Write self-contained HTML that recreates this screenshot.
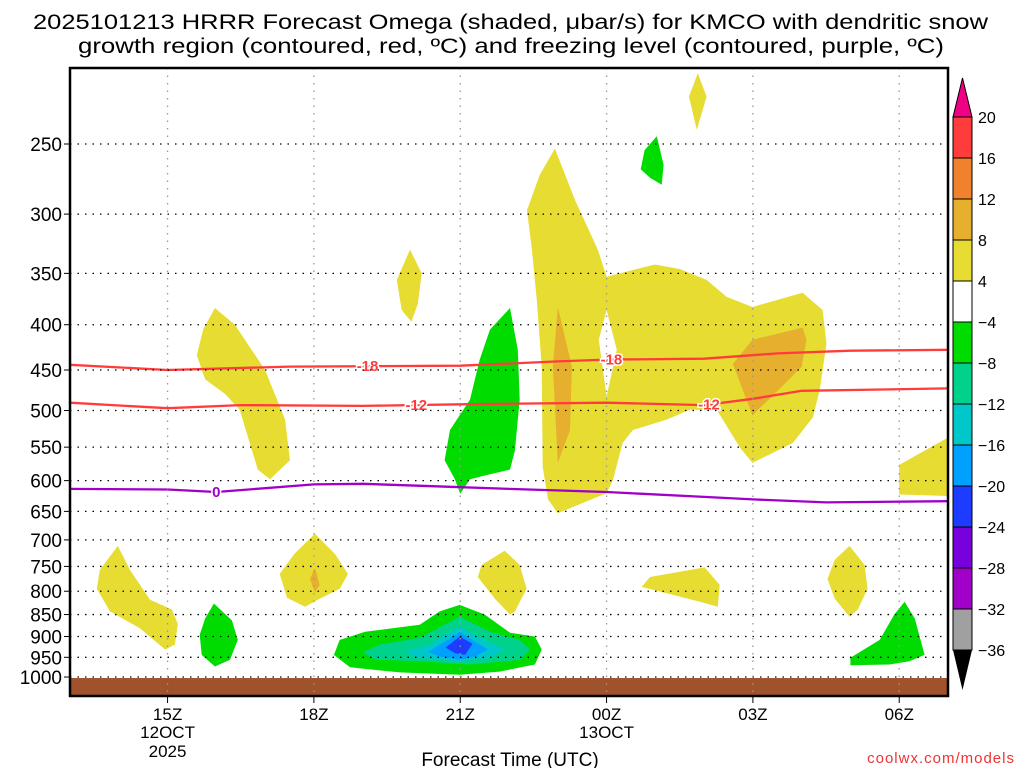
<!DOCTYPE html>
<html><head><meta charset="utf-8"><style>
html,body{margin:0;padding:0;background:#fff;}
svg{display:block;font-family:"Liberation Sans",sans-serif;}
</style></head><body>
<svg id="chart" width="1024" height="768" viewBox="0 0 1024 768" xmlns="http://www.w3.org/2000/svg">
<text x="33" y="29" textLength="955" lengthAdjust="spacingAndGlyphs" font-size="21" fill="#000">2025101213 HRRR Forecast Omega (shaded, μbar/s) for KMCO with dendritic snow</text>
<text x="78" y="53" textLength="866" lengthAdjust="spacingAndGlyphs" font-size="21" fill="#000">growth region (contoured, red, ºC) and freezing level (contoured, purple, ºC)</text>
<g id="plot"></g>
<g id="cbar"></g>
<text x="510" y="766" text-anchor="middle" font-size="19" fill="#000">Forecast Time (UTC)</text>
<text x="1015" y="763" text-anchor="end" font-size="15" fill="#e33" letter-spacing="1">coolwx.com/models</text>
</svg>
<script>
// axis data
const pressureTicks = [250,300,350,400,450,500,550,600,650,700,750,800,850,900,950,1000];
const timeTicks = [15,18,21,24,27,30];
const timeLabels = ["15Z","18Z","21Z","00Z","03Z","06Z"];
const dateLabels = {15:["12OCT","2025"],24:["13OCT"]};
// contour lines: hour (since 12 Oct 00Z) and pressure
const dgzColdHours = [13,15,17.5,21,23,24,26,27.5,29,31];
const dgzColdP = [444,450,446,445,440,438,437,431,428,427];
const dgzWarmHours = [13,15,16.5,19,21,24,26,27,28,31];
const dgzWarmP = [490,497,493,494,492,490,493,485,475,472];
const frzHours = [13,15,16,18,19,20.5,22,24,26,27,28.5,31];
const frzP = [613,614,618,606,605,609,613,618,626,630,635,633];
// omega shaded regions: [hour, pressure]
const yellowTop = [[25.87,208],[26.05,221],[25.85,241],[25.69,221]];
const greenTop = [[25.03,245],[25.17,264],[25.13,278],[24.89,273],[24.7,267],[24.78,254]];
const yellowBig = [[22.94,253],[23.35,289],[23.82,329],[24.0,353],[24.99,342],[25.5,346],[26.05,356],[26.46,372],[26.99,382],[28.02,368],[28.43,385],[28.51,420],[28.37,474],[28.23,509],[27.82,544],[26.99,573],[26.73,550],[26.26,499],[25.7,499],[25.23,512],[24.54,526],[24.33,544],[24.13,599],[24.0,620],[23.51,636],[23.0,653],[22.8,630],[22.69,579],[22.67,446],[22.57,375],[22.47,329],[22.37,297],[22.63,271]];
const orangeLeft = [[23.0,382],[23.29,446],[23.25,526],[23.0,573],[22.9,446]];
const orangeRight = [[26.59,443],[26.99,416],[28.02,403],[28.1,416],[28.0,446],[27.41,481],[26.99,506]];
const holeWhite = [[24.0,385],[24.21,427],[24.0,482],[23.84,416]];
const yellow20 = [[19.97,329],[20.21,350],[20.13,379],[20.0,397],[19.8,385],[19.7,356]];
const yellow16 = [[15.97,383],[16.38,400],[17.0,450],[17.41,512],[17.51,569],[17.1,598],[16.85,583],[16.48,499],[16.18,479],[15.77,461],[15.6,433],[15.73,405]];
const green21 = [[22.02,383],[22.18,427],[22.22,486],[22.12,555],[22.02,583],[21.61,590],[21.2,598],[21.0,621],[20.89,598],[20.68,569],[20.79,526],[21.2,486],[21.4,438],[21.61,405]];
const yellow06 = [[31.2,529],[31.2,625],[30.0,622],[30.0,576],[30.52,555]];
const yellowLow14 = [[13.98,711],[14.23,757],[14.64,818],[15.09,839],[15.21,871],[15.15,919],[14.95,931],[14.43,881],[13.82,843],[13.55,795],[13.61,757]];
const green16 = [[15.95,826],[16.32,863],[16.44,908],[16.28,956],[15.97,973],[15.7,944],[15.66,896],[15.77,859]];
const yellow18 = [[18.02,689],[18.43,726],[18.7,765],[18.53,795],[18.12,816],[17.82,833],[17.45,814],[17.3,765],[17.6,726]];
const orange18 = [[18.02,753],[18.12,787],[18.02,802],[17.92,775]];
const yellow22 = [[21.91,720],[22.22,747],[22.36,795],[22.12,843],[22.02,850],[21.71,816],[21.36,771],[21.44,747]];
const yellow02 = [[26.01,752],[26.32,787],[26.28,833],[25.91,822],[25.3,806],[24.72,791],[24.89,771]];
const yellow05 = [[28.98,711],[29.29,747],[29.35,795],[29.15,839],[28.98,855],[28.68,816],[28.53,775],[28.68,737]];
const green06 = [[30.11,822],[30.32,859],[30.52,944],[30.21,960],[29.8,968],[29.0,970],[29.0,951],[29.6,908],[29.9,850]];
const blobGreen = [[20.99,829],[21.5,850],[22.02,891],[22.53,900],[22.67,931],[22.53,968],[21.81,986],[20.99,994],[19.76,988],[18.74,975],[18.41,944],[18.53,908],[19.05,889],[20.17,873],[20.58,843]];
const blobTeal = [[20.99,855],[21.61,889],[22.22,908],[22.43,931],[22.22,956],[21.2,968],[20.17,960],[19.25,956],[19.0,937],[19.35,919],[20.17,903],[20.68,873]];
const blobCyan = [[20.99,878],[21.4,903],[21.91,931],[21.61,951],[20.99,960],[20.17,951],[19.86,937],[20.38,919],[20.68,896]];
const blobBlue = [[20.99,889],[21.3,912],[21.57,931],[21.3,948],[20.99,956],[20.58,948],[20.34,937],[20.68,912]];
const blobDark = [[20.99,900],[21.25,917],[21.1,944],[20.89,940],[20.7,926]];
// colorbar
const cbarLevels = ["20","16","12","8","4","−4","−8","−12","−16","−20","−24","−28","−32","−36"];
const cbarColors = ["#ff3c3c","#f0822d","#e6af2d","#e6dc32","#ffffff","#00dc00","#00d28c","#00c8c8","#00a0ff","#1e3cff","#7800dc","#a000c8","#a0a0a0"];

const NS="http://www.w3.org/2000/svg";
const L=70,R=948,T=68,B=696;
const H0=13,H1=31;
const P0=250, PY0=144, PS=384.5;
function xOf(h){return L+(h-H0)*(R-L)/(H1-H0);}
function yOf(p){return PY0+Math.log(p/P0)*PS;}
function mk(tag,attrs,parent){const e=document.createElementNS(NS,tag);for(const k in attrs)e.setAttribute(k,attrs[k]);parent.appendChild(e);return e;}
const plot=document.getElementById('plot');
const defs=mk('defs',{},plot);
const cp=mk('clipPath',{id:'clip'},defs);
mk('rect',{x:L,y:T,width:R-L,height:B-T},cp);
const g=mk('g',{'clip-path':'url(#clip)'},plot);

function poly(pts,color,name){
  const d=pts.map(q=>xOf(q[0]).toFixed(1)+','+yOf(q[1]).toFixed(1)).join(' ');
  const e=mk('polygon',{points:d,fill:color},g);
  
  
}
const Y="#e6dc32",O="#e6af2d",G="#00dc00";
poly(yellowTop,Y,'omega-yellow-top');
poly(greenTop,G,'omega-green-top');
poly(yellowBig,Y,'omega-yellow-main');
poly(orangeLeft,O,'omega-orange-left');
poly(orangeRight,O,'omega-orange-right');
poly(holeWhite,'#fff','omega-hole');
poly(yellow20,Y,'omega-yellow-20z');
poly(yellow16,Y,'omega-yellow-16z');
poly(green21,G,'omega-green-21z');
poly(yellow06,Y,'omega-yellow-06z');
poly(yellowLow14,Y,'omega-yellow-low-14z');
poly(green16,G,'omega-green-low-16z');
poly(yellow18,Y,'omega-yellow-low-18z');
poly(orange18,O,'omega-orange-low-18z');
poly(yellow22,Y,'omega-yellow-low-22z');
poly(yellow02,Y,'omega-yellow-low-02z');
poly(yellow05,Y,'omega-yellow-low-05z');
poly(green06,G,'omega-green-low-06z');
poly(blobGreen,G,'omega-blob-green');
poly(blobTeal,'#00d28c','omega-blob-teal');
poly(blobCyan,'#00c8c8','omega-blob-cyan');
poly(blobBlue,'#00a0ff','omega-blob-blue');
poly(blobDark,'#1e3cff','omega-blob-darkblue');

// ground
const gr=mk('rect',{x:L,y:yOf(1000)+1,width:R-L,height:B-yOf(1000),fill:'#a0522d'},g);



// grid
pressureTicks.forEach(p=>{
  const y=yOf(p);
  const ln=mk('line',{x1:L,x2:R,y1:y,y2:y,stroke:'#000','stroke-width':1.3,'stroke-dasharray':'1.5 6'},plot);
  
  
  mk('line',{x1:L-6,x2:L,y1:y,y2:y,stroke:'#000','stroke-width':1},plot);
  const t=mk('text',{x:L-8,y:y+7,'text-anchor':'end','font-size':19,fill:'#000'},plot);
  t.textContent=p;
  
  
});
timeTicks.forEach((h,i)=>{
  const x=xOf(h);
  const ln=mk('line',{x1:x,x2:x,y1:T,y2:B,stroke:'#999','stroke-width':1.3,'stroke-dasharray':'1.5 6'},plot);
  
  
  mk('line',{x1:x,x2:x,y1:B,y2:B+7,stroke:'#000','stroke-width':1},plot);
  const t=mk('text',{x:x,y:720,'text-anchor':'middle','font-size':17,fill:'#000'},plot);
  t.textContent=timeLabels[i];
  
  
  (dateLabels[h]||[]).forEach((s,j)=>{
    const d=mk('text',{x:x,y:738+j*19,'text-anchor':'middle','font-size':17,fill:'#000'},plot);
    d.textContent=s;
    
    
  });
});

// contour lines
function line(hs,ps,color,name){
  const d=hs.map((h,i)=>(i?'L':'M')+xOf(h).toFixed(1)+','+yOf(ps[i]).toFixed(1)).join(' ');
  const e=mk('path',{d:d,fill:'none',stroke:color,'stroke-width':2.3},g);
  
  
}
function interp(hs,ps,h){for(let i=1;i<hs.length;i++){if(h<=hs[i]){const f=(h-hs[i-1])/(hs[i]-hs[i-1]);return ps[i-1]+f*(ps[i]-ps[i-1]);}}return ps[ps.length-1];}
function label(hs,ps,h,txt,color){
  const x=xOf(h),y=yOf(interp(hs,ps,h));
  const t=mk('text',{x:x,y:y+5,'text-anchor':'middle','font-size':15,'font-weight':'bold',fill:color,stroke:'#fff','stroke-width':3,'paint-order':'stroke'},g);
  t.textContent=txt;
  
  
}
line(dgzColdHours,dgzColdP,'#ff3c3c','contour-minus18');
line(dgzWarmHours,dgzWarmP,'#ff3c3c','contour-minus12');
line(frzHours,frzP,'#a000c8','freezing-level-0');
label(dgzColdHours,dgzColdP,19.1,'-18','#ff3c3c');
label(dgzColdHours,dgzColdP,24.1,'-18','#ff3c3c');
label(dgzWarmHours,dgzWarmP,20.1,'-12','#ff3c3c');
label(dgzWarmHours,dgzWarmP,26.1,'-12','#ff3c3c');
label(frzHours,frzP,16.0,'0','#a000c8');

const fr=mk('rect',{x:L,y:T,width:R-L,height:B-T,fill:'none',stroke:'#000','stroke-width':2.5},plot);



// colorbar
const cb=document.getElementById('cbar');
const cx=953,cw=19,cy0=117,ch=41;
const tri=mk('polygon',{points:`${cx},${cy0} ${cx+cw},${cy0} ${cx+cw/2},78`,fill:'#f00082',stroke:'#000','stroke-width':1},cb);


cbarColors.forEach((c,i)=>{
  const r=mk('rect',{x:cx,y:cy0+i*ch,width:cw,height:ch,fill:c,stroke:'#000','stroke-width':1},cb);
  
  
});
const yb=cy0+cbarColors.length*ch;
const tri2=mk('polygon',{points:`${cx},${yb} ${cx+cw},${yb} ${cx+cw/2},${yb+40}`,fill:'#000'},cb);


cbarLevels.forEach((s,i)=>{
  const t=mk('text',{x:978,y:cy0+i*ch+6,'font-size':16,fill:'#000'},cb);
  t.textContent=s;
  
  
});
</script>
</body></html>
